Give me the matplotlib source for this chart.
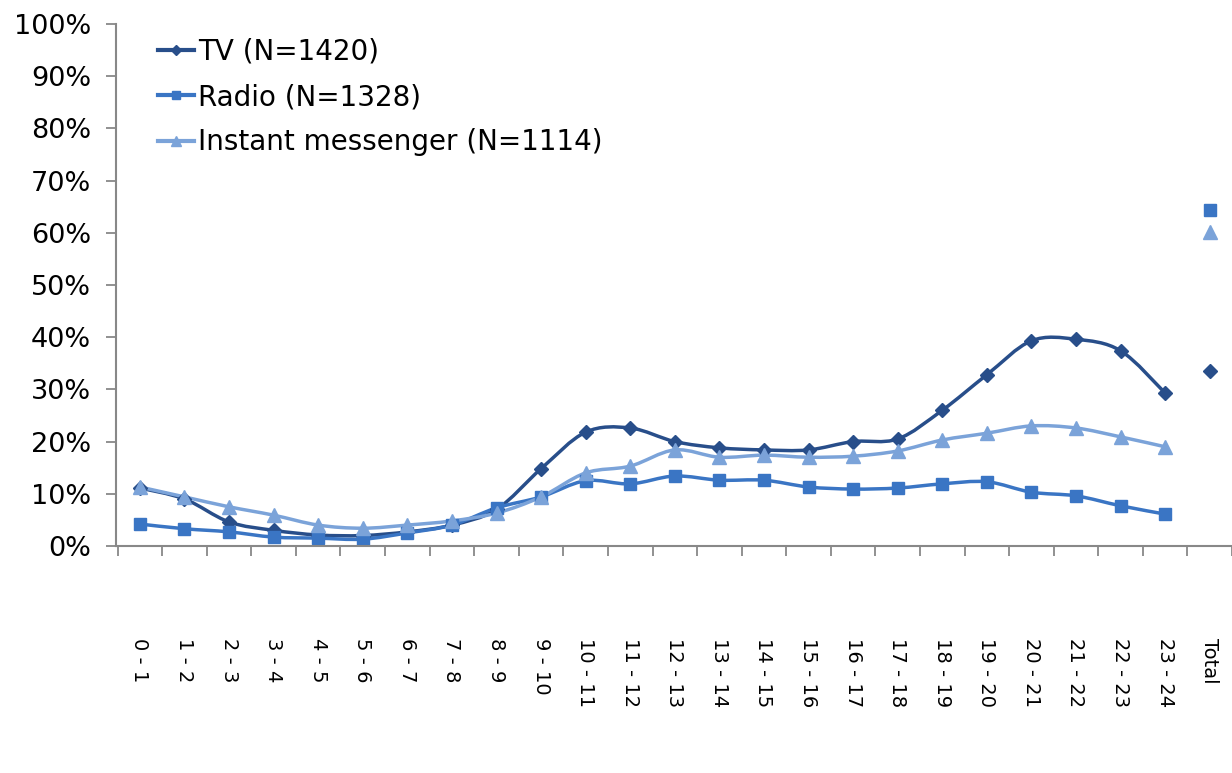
import matplotlib
matplotlib.use("Agg")
import matplotlib.pyplot as plt
import numpy as np
from matplotlib.path import Path
from matplotlib.patches import PathPatch

# hour slots + overall value
hours = [f"{h} - {h + 1}" for h in range(24)] + ["Total"]

tv = [11.1, 9.0, 4.6, 3.0, 2.1, 2.0, 2.7, 4.0, 7.0, 14.8, 21.8, 22.6, 20.0, 18.8,
      18.4, 18.4, 20.0, 20.5, 26.0, 32.8, 39.3, 39.6, 37.4, 29.3, 33.5]
radio = [4.2, 3.3, 2.7, 1.7, 1.5, 1.3, 2.5, 4.0, 7.3, 9.4, 12.5, 11.9, 13.4, 12.6,
         12.6, 11.3, 10.9, 11.1, 11.9, 12.3, 10.3, 9.6, 7.7, 6.1, 64.4]
im = [11.3, 9.4, 7.5, 5.9, 4.0, 3.4, 4.0, 4.8, 6.3, 9.4, 14.0, 15.3, 18.4, 17.0,
      17.4, 17.0, 17.2, 18.2, 20.3, 21.6, 23.0, 22.6, 20.9, 19.0, 60.2]

series = [
    ("TV (N=1420)", tv, "#284e8a", "D", 7.5),
    ("Radio (N=1328)", radio, "#3a75c4", "s", 8.5),
    ("Instant messenger (N=1114)", im, "#7ba3d9", "^", 10),
]


def smooth_path(x, y, t=1 / 6):
    # catmull-rom style bezier, like excel's smoothed lines
    verts = [(x[0], y[0])]
    codes = [Path.MOVETO]
    n = len(x)
    for i in range(n - 1):
        x0, y0 = (x[i - 1], y[i - 1]) if i > 0 else (x[i], y[i])
        x3, y3 = (x[i + 2], y[i + 2]) if i + 2 < n else (x[i + 1], y[i + 1])
        c1 = (x[i] + (x[i + 1] - x0) * t, y[i] + (y[i + 1] - y0) * t)
        c2 = (x[i + 1] - (x3 - x[i]) * t, y[i + 1] - (y3 - y[i]) * t)
        verts += [c1, c2, (x[i + 1], y[i + 1])]
        codes += [Path.CURVE4] * 3
    return Path(verts, codes)


fig = plt.figure(figsize=(12.32, 7.73), dpi=100)
ax = fig.add_axes([0.0942, 0.2937, 0.9058, 0.6753])

xs = np.arange(len(hours))
for label, vals, col, mk, ms in series:
    v = np.array(vals) / 100
    ax.add_patch(PathPatch(smooth_path(xs[:24], v[:24]), fill=False,
                           edgecolor=col, lw=2.5, capstyle="round"))
    ax.plot(xs, v, ls="none", marker=mk, ms=ms, color=col)
    ax.plot([], [], color=col, lw=3, marker=mk, ms=ms - 2.5, label=label)

ax.set_xlim(-0.535, 24.3)
ax.set_ylim(0, 1)
ax.set_yticks(np.arange(0, 1.01, 0.1))
ax.set_yticklabels([f"{int(round(t * 100))}%" for t in np.arange(0, 1.01, 0.1)],
                   fontsize=19.5)
ax.set_xticks(xs)
ax.set_xticklabels(hours, rotation=-90, fontsize=14, va="top")
ax.set_xticks(np.arange(-0.5, len(hours), 1), minor=True)
ax.tick_params(axis="x", which="major", length=0, pad=66)
ax.tick_params(axis="x", which="minor", length=7, color="#888888", width=1.3)
ax.tick_params(axis="y", length=7, color="#888888", width=1.3, pad=11)

for s in ["top", "right"]:
    ax.spines[s].set_visible(False)
for s in ["left", "bottom"]:
    ax.spines[s].set_color("#888888")
    ax.spines[s].set_linewidth(1.5)

ax.legend(loc="upper left", bbox_to_anchor=(0.025, 1.0), frameon=False,
          fontsize=20, handlelength=1.3, handletextpad=0.15, labelspacing=0.62,
          borderaxespad=0.1)

fig.savefig("out.png", dpi=100)
